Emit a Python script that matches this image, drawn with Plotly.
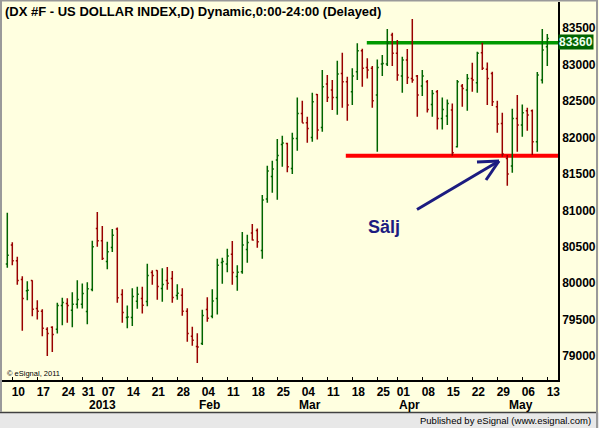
import plotly.graph_objects as go

# trading days on the chart, by month
days = {
    "2012-12": [7, 10, 11, 12, 13, 14, 17, 18, 19, 20, 21, 24, 26, 27, 28, 31],
    "2013-01": [2, 3, 4, 7, 8, 9, 10, 11, 14, 15, 16, 17, 18, 21, 22, 23, 24, 25, 28, 29, 30, 31],
    "2013-02": [1, 4, 5, 6, 7, 8, 11, 12, 13, 14, 15, 18, 19, 20, 21, 22, 25, 26, 27, 28],
    "2013-03": [1, 4, 5, 6, 7, 8, 11, 12, 13, 14, 15, 18, 19, 20, 21, 22, 25, 26, 27, 28],
    "2013-04": [1, 2, 3, 4, 5, 8, 9, 10, 11, 12, 15, 16, 17, 18, 19, 22, 23, 24, 25, 26, 29, 30],
    "2013-05": [1, 2, 3, 6, 7, 8, 9, 10, 13],
}
dates = [f"{m}-{d:02d}" for m, ds in days.items() for d in ds]

opens = [80262, 80523, 80307, 80051, 79895, 80037, 79653, 79616, 79369, 79396,
         79369, 79694, 79721, 79630, 79712, 79712, 79611, 79914, 80752, 80582,
         80298, 80491, 80743, 79845, 79529, 79529, 79753, 79790, 79749, 80147,
         80175, 79928, 80037, 80065, 79831, 79836, 79616, 79273, 79131, 79172,
         79639, 79547, 79790, 80285, 80262, 80399, 80092, 80157, 80463, 80688,
         80724, 80450, 81155, 81466, 81691, 81906, 81919, 81575, 81988, 82331,
         82203, 82001, 82592, 82139, 82734, 82652, 82551, 82881, 82766, 82629,
         82904, 83192, 82963, 82950, 82583, 83009, 83009, 83408, 83156, 82844,
         83064, 82812, 82844, 82707, 82766, 82455, 82629, 82262, 82295, 82377,
         81873, 82707, 82652, 82812, 82753, 83165, 82936, 82881, 82423, 82194,
         81713, 81608, 82263, 82171, 82368, 82368, 81942, 82789, 83247]
highs = [80967, 80564, 80362, 80097, 80028, 80042, 79767, 79643, 79396, 79410,
         79730, 79799, 79795, 79877, 80042, 79996, 80014, 80582, 80976, 80784,
         80569, 80743, 80765, 79918, 79694, 79932, 79950, 79950, 80266, 80179,
         80179, 80207, 80221, 80166, 79987, 79932, 79657, 79401, 79314, 79634,
         79808, 79918, 80335, 80349, 80473, 80578, 80248, 80702, 80665, 80812,
         80752, 81210, 81613, 81682, 81979, 82025, 81928, 82066, 82551, 82505,
         82285, 82615, 82597, 82927, 82858, 82789, 83055, 83165, 82835, 82950,
         83293, 83220, 83087, 82982, 83073, 83133, 83490, 83440, 83339, 83110,
         83215, 83627, 82858, 82927, 82789, 82652, 82652, 82551, 82524, 82469,
         82789, 82734, 82872, 83027, 83178, 83302, 83032, 82904, 82505, 82340,
         81759, 82395, 82583, 82455, 82409, 82386, 82899, 83490, 83421]
lows = [80211, 80248, 79978, 79346, 79767, 79547, 79501, 79272, 79002, 79057,
        79309, 79424, 79456, 79396, 79653, 79653, 79437, 79891, 80500, 80317,
        80193, 80427, 79730, 79456, 79382, 79414, 79648, 79584, 79685, 79978,
        79772, 79744, 79909, 79731, 79772, 79552, 79195, 79140, 78906, 79153,
        79470, 79520, 79570, 79992, 80152, 79978, 79895, 80129, 80280, 80587,
        80486, 80335, 81105, 81242, 81146, 81599, 81525, 81498, 81818, 82203,
        81928, 81942, 81974, 82079, 82487, 82377, 82313, 82409, 82230, 82446,
        82789, 82698, 82812, 82409, 81805, 82844, 82982, 82982, 82780, 82615,
        82734, 82753, 82285, 82569, 82345, 82285, 82111, 82111, 82171, 81750,
        81864, 82423, 82368, 82629, 82615, 82927, 82446, 82432, 82066, 81736,
        81337, 81516, 81805, 82011, 82093, 81759, 81805, 82743, 82982]
closes = [80385, 80307, 80037, 79790, 79904, 79643, 79616, 79382, 79309, 79295,
          79694, 79735, 79694, 79712, 79776, 79859, 79923, 80500, 80582, 80340,
          80431, 80660, 79799, 79598, 79535, 79817, 79849, 79698, 80106, 80106,
          79955, 79982, 80001, 79804, 79863, 79616, 79309, 79218, 79125, 79557,
          79520, 79754, 80248, 80298, 80372, 80147, 80152, 80523, 80559, 80592,
          80569, 81141, 81540, 81567, 81755, 81924, 81598, 81988, 82331, 82200,
          82125, 82492, 82102, 82698, 82551, 82551, 82872, 82766, 82446, 82844,
          83192, 82950, 82927, 82505, 82963, 83018, 83293, 83156, 82858, 83064,
          82826, 82789, 82583, 82844, 82386, 82606, 82262, 82386, 82469, 81791,
          82766, 82675, 82812, 82789, 83156, 82950, 82812, 82492, 82185, 81773,
          81498, 82263, 82171, 82340, 82308, 81942, 82858, 83201, 83360]

week_ticks = ["2012-12-10", "2012-12-17", "2012-12-24", "2012-12-31", "2013-01-07",
              "2013-01-14", "2013-01-21", "2013-01-28", "2013-02-04", "2013-02-11",
              "2013-02-18", "2013-02-25", "2013-03-04", "2013-03-11", "2013-03-18",
              "2013-03-25", "2013-04-01", "2013-04-08", "2013-04-15", "2013-04-22",
              "2013-04-29", "2013-05-06", "2013-05-13"]
week_text = [d[-2:] for d in week_ticks]
month_starts = ["2013-01-02", "2013-02-01", "2013-03-01", "2013-04-01", "2013-05-01"]
month_text = ["2013", "Feb", "Mar", "Apr", "May"]

resistance, resistance_from = 83300, "2013-03-21"
support, support_from = 81750, "2013-03-15"
last_price = closes[-1]

GREEN = "#006400"
RED = "#990000"
BG = "#FFFFE0"
NAVY = "#1c1c80"
FONT = "Liberation Sans"

xrange_ = [-1.06, 110.14]


def px(x, y):
    # pixel position in the window -> paper coords
    return (x - 2) / 556, (380 - y) / 378


fig = go.Figure()
fig.add_trace(go.Ohlc(
    x=dates, open=opens, high=highs, low=lows, close=closes,
    increasing=dict(line=dict(color=GREEN, width=1.5)),
    decreasing=dict(line=dict(color=RED, width=1.5)),
    tickwidth=0.3, showlegend=False, hoverinfo="skip",
))

shapes = []
# frame of the eSignal window
bx0, by0 = px(-5, 430)
bx1, by1 = px(605, 412.5)
shapes.append(dict(type="rect", xref="paper", yref="paper", x0=bx0, x1=bx1, y0=by0, y1=by1,
                   fillcolor="#E8E8E8", line=dict(width=0), layer="below"))
lx0, ly = px(0, 412.5)
lx1, _ = px(597, 412.5)
shapes.append(dict(type="line", xref="paper", yref="paper", x0=lx0, x1=lx1, y0=ly, y1=ly,
                   line=dict(color="#404040", width=1.5)))
for (xa, ya, xb, yb) in [(1, 0, 1, 412), (0, 0.5, 597, 0.5), (597, 0, 597, 428)]:
    p0 = px(xa, ya)
    p1 = px(xb, yb)
    shapes.append(dict(type="line", xref="paper", yref="paper", x0=p0[0], y0=p0[1],
                       x1=p1[0], y1=p1[1], line=dict(color="#9a9a9a", width=2)))

# support / resistance lines
shapes.append(dict(type="line", xref="x", yref="y", x0=dates.index(resistance_from) - 0.1,
                   x1=xrange_[1], y0=resistance, y1=resistance,
                   line=dict(color="#009900", width=3.5), layer="below"))
shapes.append(dict(type="line", xref="x", yref="y", x0=dates.index(support_from) - 0.3,
                   x1=xrange_[1], y0=support, y1=support,
                   line=dict(color="#FF0000", width=4), layer="below"))

# hand drawn arrow
head = (499, 161)
for end in [(417, 209.5), (477, 162), (486, 180)]:
    p0 = px(*head)
    p1 = px(*end)
    shapes.append(dict(type="line", xref="paper", yref="paper", x0=p0[0], y0=p0[1],
                       x1=p1[0], y1=p1[1], line=dict(color=NAVY, width=3)))

annotations = []
tx, ty = px(2.5, 11)
annotations.append(dict(xref="paper", yref="paper", x=tx, y=ty, xanchor="left", yanchor="middle",
                        text="(DX #F - US DOLLAR INDEX,D) Dynamic,0:00-24:00 (Delayed)",
                        showarrow=False, font=dict(family=FONT, size=13, color="black", weight="bold")))
sx, sy = px(384, 227)
annotations.append(dict(xref="paper", yref="paper", x=sx, y=sy, text="Sälj", showarrow=False,
                        xanchor="center", yanchor="middle",
                        font=dict(family=FONT, size=18, color=NAVY, weight="bold")))
cx, cy = px(5, 373)
annotations.append(dict(xref="paper", yref="paper", x=cx, y=cy, text="© eSignal, 2011",
                        showarrow=False, xanchor="left", yanchor="middle",
                        font=dict(family=FONT, size=7.5, color="black")))
px_, py_ = px(593, 421)
annotations.append(dict(xref="paper", yref="paper", x=px_, y=py_,
                        text="Published by eSignal (www.esignal.com)", showarrow=False,
                        xanchor="right", yanchor="middle",
                        font=dict(family=FONT, size=9.5, color="black")))
_, my = px(0, 405)
for d, t in zip(month_starts, month_text):
    annotations.append(dict(xref="x", yref="paper", x=dates.index(d) - 0.1, y=my, text=t,
                            showarrow=False, xanchor="left", yanchor="middle",
                            font=dict(family=FONT, size=12, color="black", weight="bold")))
annotations.append(dict(xref="paper", yref="y", x=1, y=last_price, yshift=-4, text=str(last_price),
                        showarrow=False, xanchor="left", yanchor="middle", bgcolor=GREEN,
                        borderpad=0, font=dict(family=FONT, size=12, color="#F0FFF0", weight="bold")))

fig.update_layout(
    width=599, height=428,
    margin=dict(l=2, r=41, t=2, b=48),
    paper_bgcolor=BG, plot_bgcolor=BG,
    shapes=shapes, annotations=annotations,
    xaxis=dict(type="category", range=xrange_, rangeslider=dict(visible=False),
               tickmode="array", tickvals=week_ticks, ticktext=week_text,
               ticks="inside", ticklen=3, tickcolor="black", showgrid=False,
               showline=True, linecolor="black", linewidth=1.5, ticklabelshift=6,
               tickfont=dict(family=FONT, size=12, color="black", weight="bold"), zeroline=False),
    yaxis=dict(side="right", range=[78671, 83861], dtick=500, tick0=79000, tickformat="d",
               showgrid=False, zeroline=False, showline=True, linecolor="black", linewidth=1.5,
               ticks="", tickfont=dict(family=FONT, size=12, color="black", weight="bold")),
)

# the page has a default body margin; remove it so the figure sits at the window corner
fig.write_html("out.html", config={"displayModeBar": False},
               post_script="document.body.style.margin='0';")
